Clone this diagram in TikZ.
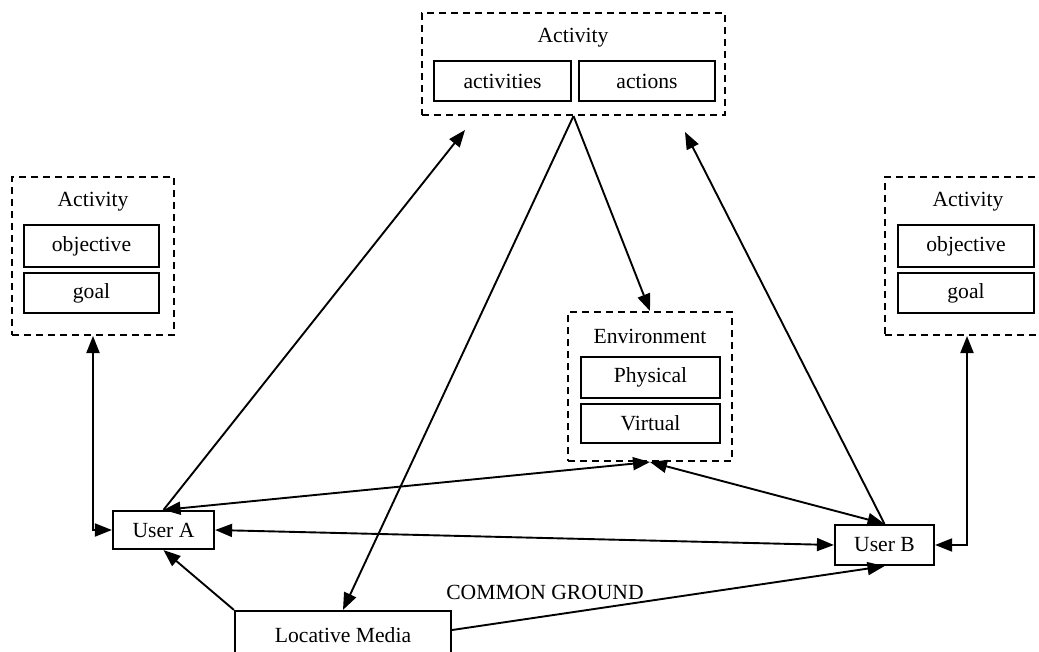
\documentclass[tikz,border=0pt]{standalone}
\usepackage{fontspec}
\setmainfont{Liberation Serif}
\usetikzlibrary{arrows.meta}
\begin{document}
\begin{tikzpicture}[x=1pt,y=-1pt,
  every node/.style={font=\fontsize{21.6}{25}\selectfont, inner sep=0pt},
  dbox/.style={draw, line width=2pt, dash pattern=on 7pt off 5pt},
  sbox/.style={draw, line width=2.2pt},
  title/.style={},
  conn/.style={line width=1.9pt, >={Triangle[length=17pt,width=13pt]}},
  lbl/.style={}]
\useasboundingbox (0,0) rectangle (1039,651);
\clip (0,0) rectangle (1039,651);
% top activity
\node[dbox, minimum width=303pt, minimum height=102pt] (ta) at (573.5,64) {};
\node[title] (tat) at (573,38) {Activity};
\node[sbox, minimum width=137pt, minimum height=40pt] (tacts) at (502.5,81) {activities};
\node[sbox, minimum width=136pt, minimum height=40pt] (tactn) at (647,81) {actions};
% left activity
\node[dbox, minimum width=162pt, minimum height=158pt] (la) at (93,256) {};
\node[title] (lat) at (93,202) {Activity};
\node[sbox, minimum width=135pt, minimum height=42pt] (lao) at (91.5,246) {objective};
\node[sbox, minimum width=135pt, minimum height=40pt] (lag) at (91.5,293) {goal};
% right activity
\node[dbox, minimum width=164pt, minimum height=158pt] (ra) at (967,256) {};
\node[title] (rat) at (968,202) {Activity};
\node[sbox, minimum width=136pt, minimum height=42pt] (rao) at (966,246) {objective};
\node[sbox, minimum width=136pt, minimum height=40pt] (rag) at (966,293) {goal};
% environment
\node[dbox, minimum width=164pt, minimum height=149pt] (env) at (650,386.5) {};
\node[title] (envt) at (650,336) {Environment};
\node[sbox, minimum width=139pt, minimum height=41pt] (envp) at (650.5,377.5) {Physical};
\node[sbox, minimum width=139pt, minimum height=39pt] (envv) at (650.5,423.5) {Virtual};
% users
\node[sbox, minimum width=101pt, minimum height=38pt] (ua) at (163.5,530) {User A};
\node[sbox, minimum width=99pt, minimum height=40pt] (ub) at (884.5,545) {User B};
\node[sbox, minimum width=216pt, minimum height=46pt] (lm) at (343,634) {};
\node (lmt) at (343,635) {Locative Media};
\node[lbl] (cg) at (545,592) {COMMON GROUND};
% free ends
\coordinate (taL) at (465,130);
\coordinate (taR) at (685,132);
% connectors
\draw[conn,<->] (ua.west) -| (la.south);
\draw[conn,<->] (ub.east) -| (ra.south);
\draw[conn,->] (ua.north) -- (taL);
\draw[conn,<->] (ua.north) -- (env.south);
\draw[conn,<->] (ub.north) -- (env.south);
\draw[conn,->] (ub.north) -- (taR);
\draw[conn,<->] (ua.east) -- (ub.west);
\draw[conn,->] (lm.north west) -- (ua.south);
\draw[conn,->] (lm.east |- 0,630) -- (ub.south);
\draw[conn,->] (ta.south) -- (lm.north);
\draw[conn,->] (ta.south) -- (env.north);
\end{tikzpicture}
\end{document}
